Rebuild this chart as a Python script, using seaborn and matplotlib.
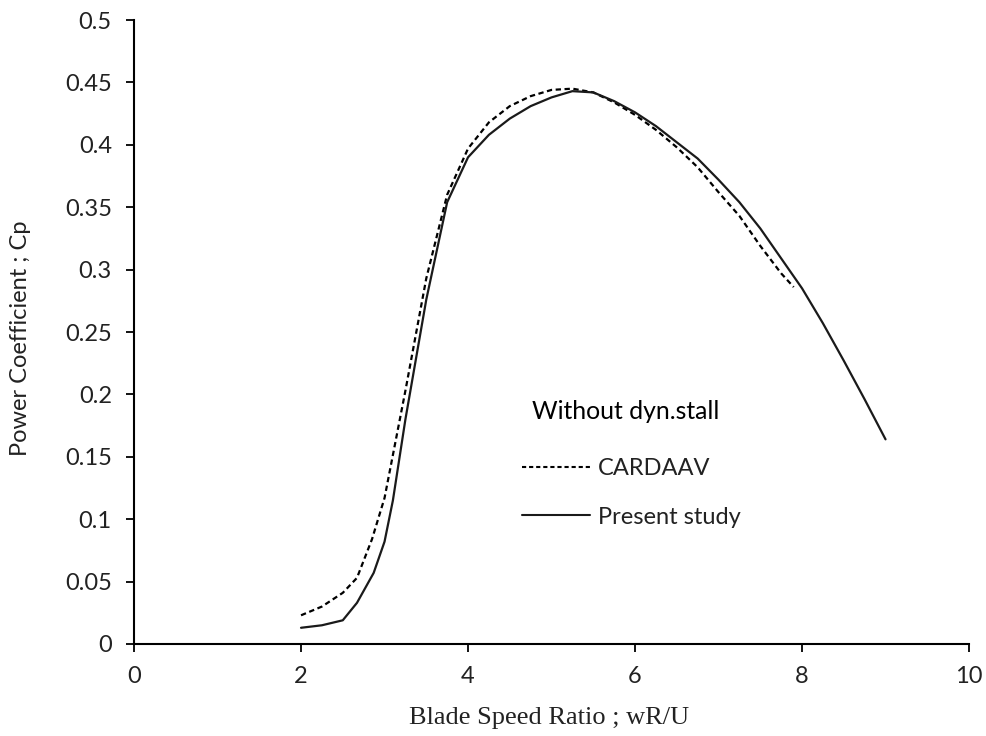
import matplotlib
matplotlib.use("Agg")
import matplotlib.pyplot as plt
import seaborn as sns
import pandas as pd
from matplotlib.lines import Line2D

# Power coefficient vs blade speed ratio, without dynamic stall
tsr_cardaav = [2.0, 2.25, 2.5, 2.67, 2.85, 3.0, 3.25, 3.5, 3.75, 4.0, 4.25, 4.5, 4.75,
               5.0, 5.25, 5.5, 5.75, 6.0, 6.25, 6.5, 6.75, 7.0, 7.25, 7.5, 7.75, 7.9]
cp_cardaav = [0.023, 0.030, 0.041, 0.053, 0.084, 0.117, 0.203, 0.293, 0.360, 0.397,
              0.418, 0.431, 0.439, 0.444, 0.445, 0.442, 0.434, 0.424, 0.412, 0.398,
              0.382, 0.362, 0.343, 0.319, 0.297, 0.286]

tsr_present = [2.0, 2.25, 2.5, 2.67, 2.87, 3.0, 3.1, 3.25, 3.5, 3.75, 4.0, 4.25, 4.5,
               4.75, 5.0, 5.25, 5.5, 5.75, 6.0, 6.25, 6.5, 6.75, 7.0, 7.25, 7.5, 7.75,
               8.0, 8.25, 8.5, 8.75, 9.0]
cp_present = [0.013, 0.015, 0.019, 0.033, 0.057, 0.082, 0.115, 0.180, 0.276, 0.354,
              0.390, 0.408, 0.421, 0.431, 0.438, 0.443, 0.442, 0.435, 0.426, 0.415,
              0.402, 0.389, 0.372, 0.354, 0.333, 0.309, 0.285, 0.257, 0.227, 0.196,
              0.164]

legend_title = "Without dyn.stall"
series_names = ["CARDAAV", "Present study"]

x_ticks = [0, 2, 4, 6, 8, 10]
y_ticks = [0, 0.05, 0.1, 0.15, 0.2, 0.25, 0.3, 0.35, 0.4, 0.45, 0.5]
y_tick_labels = ["0", "0.05", "0.1", "0.15", "0.2", "0.25", "0.3", "0.35", "0.4", "0.45", "0.5"]

sns.set_style("ticks")
plt.rcParams["font.family"] = ["Lato", "DejaVu Sans"]

fig = plt.figure(figsize=(9.87, 7.36), dpi=100)
ax = fig.add_axes([0.1358, 0.125, 0.8460, 0.8478])

df_c = pd.DataFrame({"tsr": tsr_cardaav, "cp": cp_cardaav})
df_p = pd.DataFrame({"tsr": tsr_present, "cp": cp_present})

sns.lineplot(data=df_c, x="tsr", y="cp", ax=ax, color="black", lw=1.6,
             estimator=None, sort=False)
ax.lines[-1].set_dashes((2.4, 1.6))
sns.lineplot(data=df_p, x="tsr", y="cp", ax=ax, color="#1a1a1a", lw=1.6,
             estimator=None, sort=False)

ax.set_xlim(0, 10)
ax.set_ylim(0, 0.5)
ax.set_xticks(x_ticks)
ax.set_xticklabels([str(t) for t in x_ticks], fontfamily="Lato", fontsize=17)
ax.set_yticks(y_ticks)
ax.set_yticklabels(y_tick_labels, fontfamily="Lato", fontsize=17)

for side in ["top", "right"]:
    ax.spines[side].set_visible(False)
for side in ["left", "bottom"]:
    ax.spines[side].set_color("black")
    ax.spines[side].set_linewidth(1.5)

ax.tick_params(axis="both", direction="out", length=6, width=1.3, color="black",
               labelcolor="#222222")
ax.tick_params(axis="x", pad=10)
ax.tick_params(axis="y", pad=10)

ax.set_xlabel("Blade Speed Ratio ; wR/U", fontfamily="Liberation Serif", fontsize=19,
              color="#222222", va="center")
ax.xaxis.set_label_coords(0.497, -0.119)
ax.set_ylabel("Power Coefficient ; Cp", fontfamily="Lato", fontsize=17, color="#222222",
              va="center")
ax.yaxis.set_label_coords(-0.136, 0.49)

# Legend block: heading plus two line samples
ax.text(0.477, 0.373, legend_title, transform=ax.transAxes, fontsize=17.8,
        fontfamily="Lato", color="black", va="center", ha="left")
handles = [Line2D([], [], color="black", lw=1.5, dashes=(2.0, 1.4)),
           Line2D([], [], color="#1a1a1a", lw=1.5)]
leg = ax.legend(handles, series_names, frameon=False,
                loc="upper left", bbox_to_anchor=(0.4647, 0.2973), borderaxespad=0,
                borderpad=0, fontsize=17, handlelength=2.88,
                handletextpad=0.34, labelspacing=1.15)
for t in leg.get_texts():
    t.set_color("#222222")

fig.savefig("out.png", dpi=100)
